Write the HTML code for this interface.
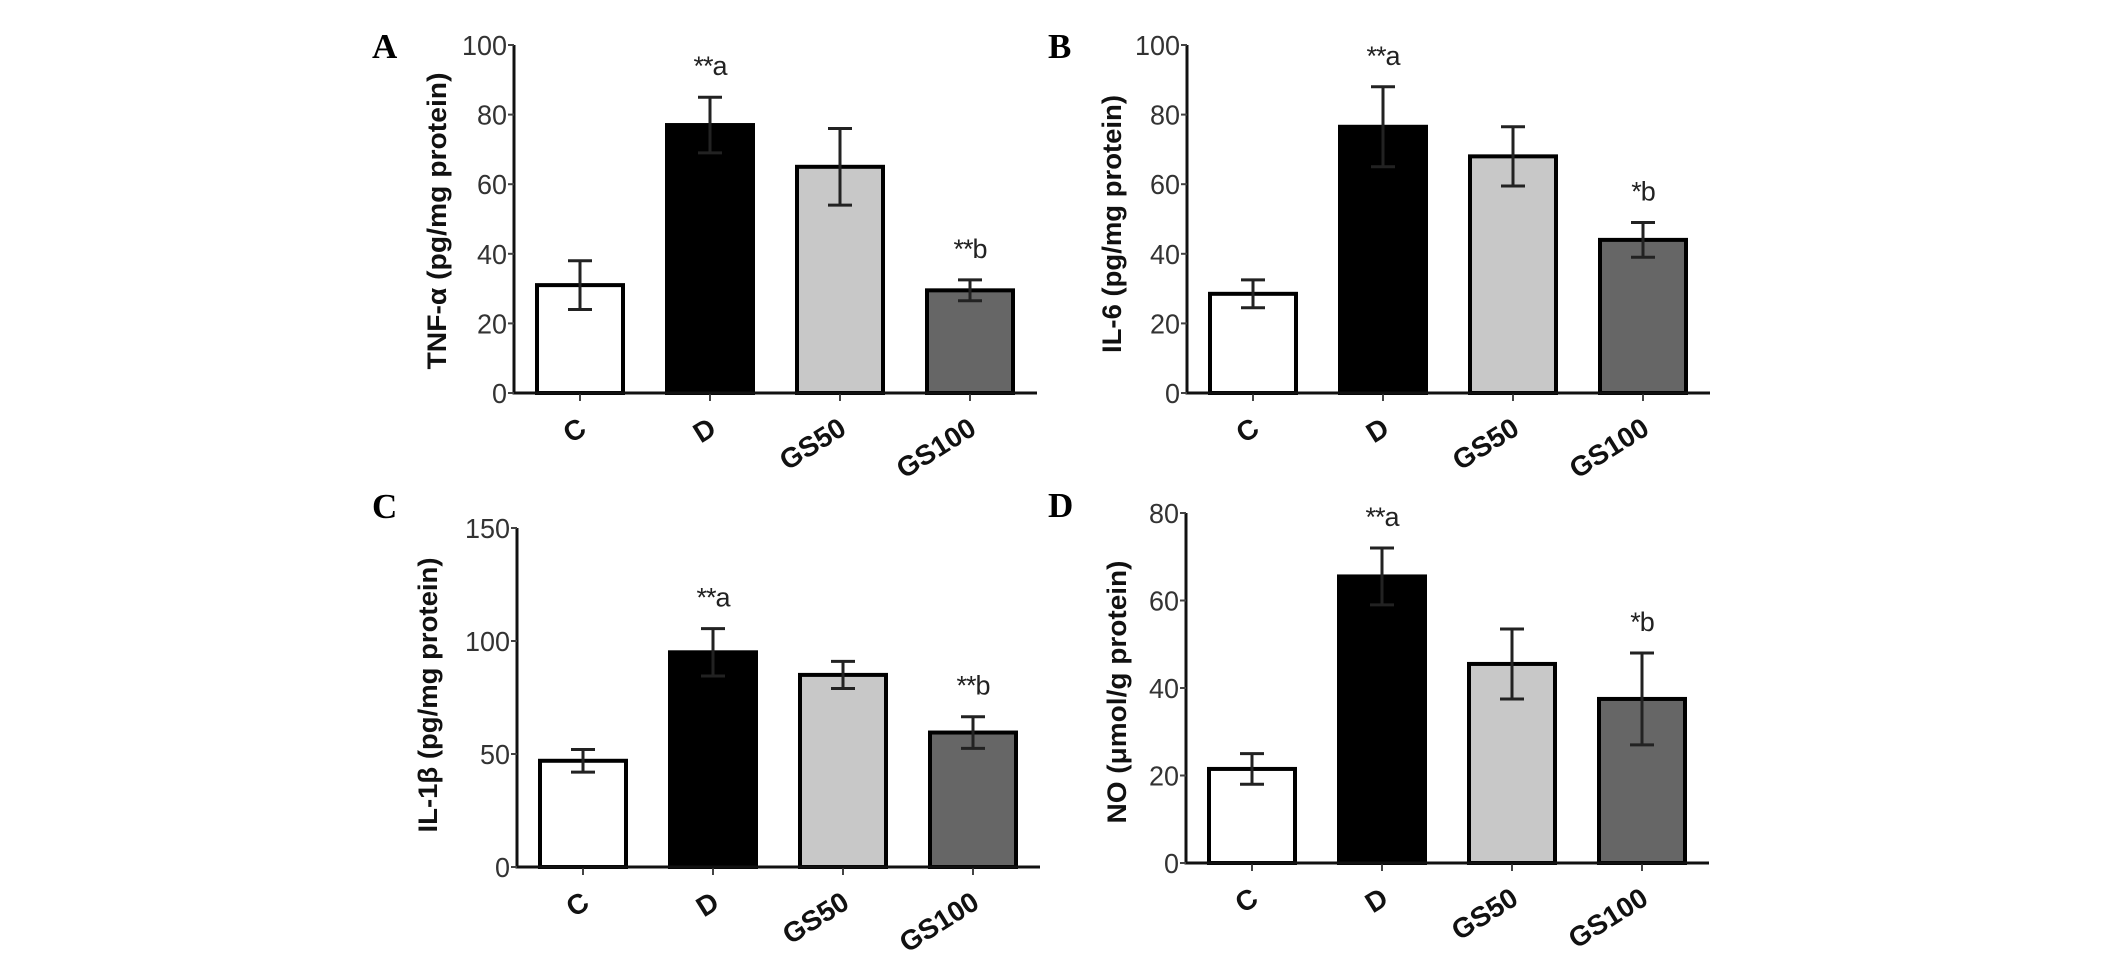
<!DOCTYPE html>
<html><head><meta charset="utf-8"><style>
html,body{margin:0;padding:0;background:#fff;}
svg{display:block;}
</style></head><body>
<svg id="fig" width="2126" height="955" viewBox="0 0 2126 955" xmlns="http://www.w3.org/2000/svg"></svg>
<script>
const categories = ["C","D","GS50","GS100"];
const tnfMeans = [31, 77, 65, 29.5];
const tnfErrs = [7, 8, 11, 3];
const il6Means = [28.5, 76.5, 68, 44];
const il6Errs = [4, 11.5, 8.5, 5];
const il1bMeans = [47, 95, 85, 59.5];
const il1bErrs = [5, 10.5, 6, 7];
const noMeans = [21.5, 65.5, 45.5, 37.5];
const noErrs = [3.5, 6.5, 8, 10.5];
const tnfMarks = ["", "**a", "", "**b"];
const il6Marks = ["", "**a", "", "*b"];
const il1bMarks = ["", "**a", "", "**b"];
const noMarks = ["", "**a", "", "*b"];
const tnfTicks = [0,20,40,60,80,100];
const il6Ticks = [0,20,40,60,80,100];
const il1bTicks = [0,50,100,150];
const noTicks = [0,20,40,60,80];

const NS = "http://www.w3.org/2000/svg";
const svg = document.getElementById("fig");
const fills = ["#ffffff","#000000","#c8c8c8","#666666"];
function mk(tag, attrs, parent){
  const e = document.createElementNS(NS, tag);
  for (const k in attrs) e.setAttribute(k, attrs[k]);
  (parent||svg).appendChild(e);
  return e;
}
function panel(o){
  const g = mk("g", {});
  
  
  const max = o.ticks[o.ticks.length-1];
  const yS = v => o.y0 - (v/max)*(o.y0-o.yTop);
  const xS = i => o.ax + 66 + i*130;
  const L = mk("text", {x:o.letterX, y:o.letterY, "font-family":"Liberation Serif, serif", "font-weight":"bold", "font-size":"35"}, g);
  L.textContent = o.letter;
  
  
  o.means.forEach((m,i)=>{
    const cx = xS(i), top = yS(m);
    const r = mk("rect", {x:cx-43, y:top, width:86, height:o.y0-top, fill:fills[i], stroke:"#000", "stroke-width":"4"}, g);
    
    
    const eTop = yS(m+o.errs[i]), eBot = yS(m-o.errs[i]);
    const eb = mk("path", {d:`M${cx},${eTop}V${eBot}M${cx-12},${eTop}H${cx+12}M${cx-12},${eBot}H${cx+12}`, stroke:"#222", "stroke-width":"3", fill:"none"}, g);
    
    
    if (o.marks[i]) {
      const t = mk("text", {x:cx, y:eTop-22, "text-anchor":"middle", "font-family":"Liberation Sans, sans-serif", "font-size":"27", fill:"#222", "letter-spacing":"-1"}, g);
      t.textContent = o.marks[i];
      
      
    }
    const tk = mk("line", {x1:cx, y1:o.y0, x2:cx, y2:o.y0+8, stroke:"#444", "stroke-width":"2"}, g);
    
    
    const lx = cx + 8, ly = o.y0 + 40;
    const xl = mk("text", {x:lx, y:ly, "text-anchor":"end", "font-family":"Liberation Sans, sans-serif", "font-weight":"bold", "font-size":"28", fill:"#111", transform:`rotate(-32 ${lx} ${ly})`}, g);
    xl.textContent = categories[i];
    
    
  });
  const ya = mk("line", {x1:o.ax, y1:o.yTop, x2:o.ax, y2:o.y0+1.5, stroke:"#111", "stroke-width":"3"}, g);
  
  
  const xa = mk("line", {x1:o.ax-1.5, y1:o.y0, x2:o.ax+523, y2:o.y0, stroke:"#111", "stroke-width":"3"}, g);
  
  
  o.ticks.forEach(v=>{
    const y = yS(v);
    const t = mk("line", {x1:o.ax-6, y1:y, x2:o.ax, y2:y, stroke:"#444", "stroke-width":"2"}, g);
    
    
    const s = String(v);
    const tl = mk("text", {x:o.ax-7, y:y+10, "text-anchor":"end", "font-family":"Liberation Sans, sans-serif", "font-size":"28", fill:"#333", textLength:s.length*15, lengthAdjust:"spacingAndGlyphs"}, g);
    tl.textContent = s;
    
    
  });
  const tx = o.ax - o.titleDx + 9, ty = o.titleCy;
  const yt = mk("text", {x:tx, y:ty, "text-anchor":"middle", "font-family":"Liberation Sans, sans-serif", "font-weight":"bold", "font-size":"27", fill:"#111", textLength:o.titleLen, lengthAdjust:"spacingAndGlyphs", transform:`rotate(-90 ${tx} ${ty})`}, g);
  yt.textContent = o.title;
  
  
}
panel({name:"panel-a-tnf", letter:"A", letterX:372, letterY:58, ax:514, y0:393, yTop:45, ticks:tnfTicks, means:tnfMeans, errs:tnfErrs, marks:tnfMarks, title:"TNF-α  (pg/mg protein)", titleDx:77, titleCy:221, titleLen:297});
panel({name:"panel-b-il6", letter:"B", letterX:1048, letterY:58, ax:1187, y0:393, yTop:45, ticks:il6Ticks, means:il6Means, errs:il6Errs, marks:il6Marks, title:"IL-6 (pg/mg protein)", titleDx:75, titleCy:224, titleLen:258});
panel({name:"panel-c-il1b", letter:"C", letterX:372, letterY:518, ax:517, y0:867, yTop:528, ticks:il1bTicks, means:il1bMeans, errs:il1bErrs, marks:il1bMarks, title:"IL-1β  (pg/mg protein)", titleDx:89, titleCy:695, titleLen:275});
panel({name:"panel-d-no", letter:"D", letterX:1048, letterY:517, ax:1186, y0:863, yTop:513, ticks:noTicks, means:noMeans, errs:noErrs, marks:noMarks, title:"NO (μmol/g protein)", titleDx:69, titleCy:692, titleLen:263});
</script>
</body></html>
